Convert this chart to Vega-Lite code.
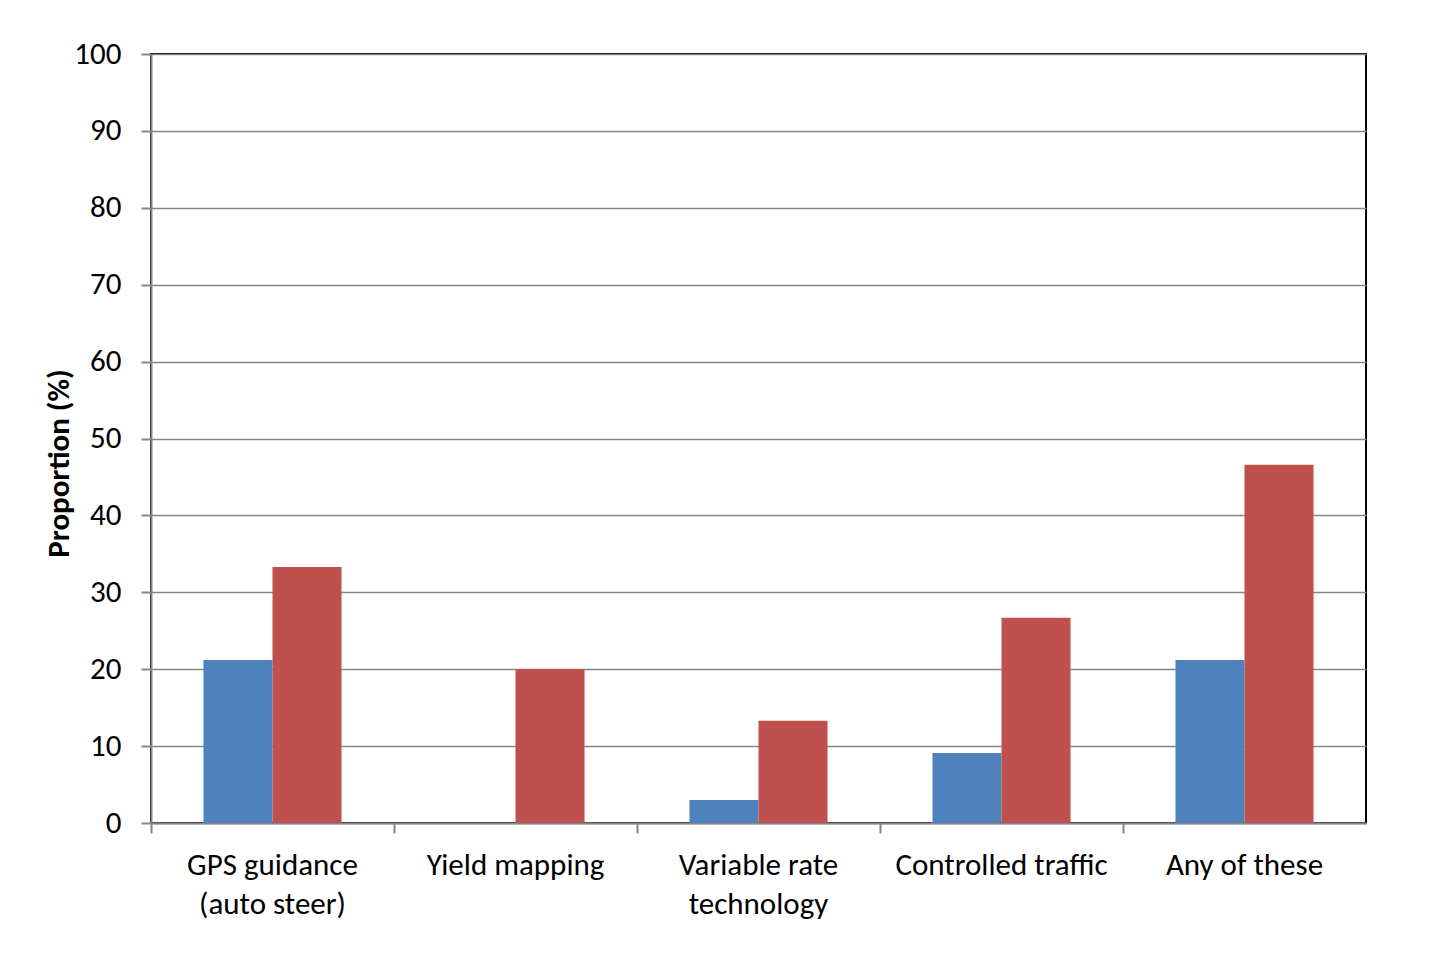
{
  "$schema": "https://vega.github.io/schema/vega-lite/v6.json",
  "width": 1215,
  "height": 769,
  "autosize": {"type": "none"},
  "padding": {"left": 151, "top": 54, "right": 71, "bottom": 130},
  "background": "white",
  "config": {
    "font": "Carlito, Lato, sans-serif",
    "view": {"stroke": "#000000", "strokeWidth": 2},
    "axis": {
      "labelFont": "Carlito, Lato, sans-serif",
      "titleFont": "Carlito, Lato, sans-serif",
      "labelColor": "#000000",
      "titleColor": "#000000"
    }
  },
  "data": {
    "values": [
      {"category": "GPS guidance|(auto steer)", "series": "Series 1", "value": 21.2},
      {"category": "GPS guidance|(auto steer)", "series": "Series 2", "value": 33.3},
      {"category": "Yield mapping", "series": "Series 1", "value": 0},
      {"category": "Yield mapping", "series": "Series 2", "value": 20.0},
      {"category": "Variable rate|technology", "series": "Series 1", "value": 3.0},
      {"category": "Variable rate|technology", "series": "Series 2", "value": 13.3},
      {"category": "Controlled traffic", "series": "Series 1", "value": 9.1},
      {"category": "Controlled traffic", "series": "Series 2", "value": 26.7},
      {"category": "Any of these", "series": "Series 1", "value": 21.2},
      {"category": "Any of these", "series": "Series 2", "value": 46.6}
    ]
  },
  "mark": {"type": "bar"},
  "encoding": {
    "x": {
      "field": "category",
      "type": "nominal",
      "sort": null,
      "scale": {"paddingInner": 0, "paddingOuter": 0},
      "axis": {
        "title": null,
        "labelAngle": 0,
        "labelExpr": "split(datum.label, '|')",
        "labelFontSize": 31,
        "labelLineHeight": 39,
        "labelPadding": 17,
        "labelBaseline": "top",
        "bandPosition": 0,
        "grid": false,
        "ticks": true,
        "tickSize": 10,
        "tickColor": "#868686",
        "tickWidth": 2,
        "domainColor": "#868686",
        "domainWidth": 2,
        "labelLimit": 300
      }
    },
    "xOffset": {
      "field": "series",
      "type": "nominal",
      "scale": {"paddingInner": 0, "paddingOuter": 0.76}
    },
    "y": {
      "field": "value",
      "type": "quantitative",
      "scale": {"domain": [0, 100], "nice": false},
      "axis": {
        "title": "Proportion (%)",
        "titleFontSize": 31,
        "titleFontWeight": "bold",
        "titlePadding": -2,
        "titleY": 409,
        "values": [0, 10, 20, 30, 40, 50, 60, 70, 80, 90, 100],
        "labelFontSize": 31,
        "labelPadding": 20,
        "tickSize": 10,
        "tickColor": "#868686",
        "tickWidth": 2,
        "domainColor": "#868686",
        "domainWidth": 2,
        "grid": true,
        "gridColor": "#868686",
        "gridWidth": 1.5
      }
    },
    "color": {
      "field": "series",
      "type": "nominal",
      "scale": {"domain": ["Series 1", "Series 2"], "range": ["#4F81BD", "#C0504D"]},
      "legend": null
    }
  }
}
